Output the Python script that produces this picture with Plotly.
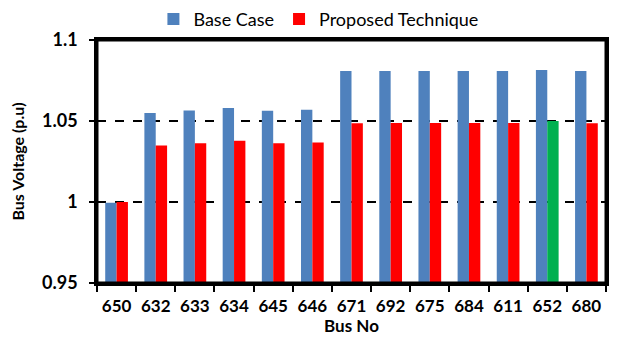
import plotly.graph_objects as go

buses = ["650", "632", "633", "634", "645", "646", "671", "692", "675", "684", "611", "652", "680"]
base_case = [0.9995, 1.0549, 1.0565, 1.0580, 1.0563, 1.0570, 1.0808, 1.0808, 1.0808, 1.0809, 1.0809, 1.0815, 1.0808]
proposed = [1.0000, 1.0348, 1.0363, 1.0378, 1.0363, 1.0368, 1.0486, 1.0488, 1.0488, 1.0487, 1.0488, 1.0500, 1.0486]
proposed_colors = ["#FF0000"] * 11 + ["#00B050", "#FF0000"]

font_family = "Lato, 'Open Sans', sans-serif"

fig = go.Figure()
fig.add_trace(go.Bar(x=buses, y=base_case, name="Base Case",
                     marker=dict(color="#4F81BD", line=dict(width=0))))
fig.add_trace(go.Bar(x=buses, y=proposed, name="Proposed Technique",
                     marker=dict(color=proposed_colors, line=dict(width=0))))

border = dict(color="black", width=3)
fig.update_layout(
    width=602, height=328,
    paper_bgcolor="white", plot_bgcolor="white",
    margin=dict(l=89, r=4, t=32, b=53, autoexpand=False),
    barmode="group", bargap=0.42, bargroupgap=0,
    font=dict(family=font_family, color="black"),
    legend=dict(orientation="h", x=0.435, xanchor="center", y=1.085, yanchor="middle",
                font=dict(size=18, color="black"), itemsizing="constant",
                traceorder="normal", bgcolor="rgba(0,0,0,0)"),
    xaxis=dict(
        type="category",
        title=dict(text="<b>Bus No</b>", font=dict(size=17), standoff=2),
        tickfont=dict(size=17, family=font_family),
        tickprefix="<b>", ticksuffix="</b>", tickangle=0,
        showline=True, linecolor="black", linewidth=2.5, mirror=True,
        ticks="outside", tickson="boundaries", ticklen=6, tickwidth=2, tickcolor="black",
        ticklabelstandoff=6,
        showgrid=False, automargin=False,
    ),
    yaxis=dict(
        range=[0.95, 1.1], dtick=0.05, tick0=0.95,
        title=dict(text="<b>Bus Voltage (p.u)</b>", font=dict(size=16), standoff=14),
        tickfont=dict(size=18, family=font_family),
        tickprefix="<b>", ticksuffix="</b>",
        showline=True, linecolor="black", linewidth=2.5, mirror=True,
        ticks="outside", ticklen=5, tickwidth=2, tickcolor="black",
        ticklabelstandoff=8,
        showgrid=True, gridcolor="black", gridwidth=2, griddash="dash",
        zeroline=False, automargin=False,
    ),
    shapes=[
        dict(type="line", xref="paper", yref="paper", x0=0, y0=1, x1=1, y1=1, line=border, layer="above"),
        dict(type="line", xref="paper", yref="paper", x0=1, y0=0, x1=1, y1=1, line=border, layer="above"),
        dict(type="line", xref="paper", yref="paper", x0=0, y0=0, x1=0, y1=1, line=border, layer="above"),
        dict(type="line", xref="paper", yref="paper", x0=0, y0=0, x1=1, y1=0, line=border, layer="above"),
    ],
)

fig.write_html("out.html")
